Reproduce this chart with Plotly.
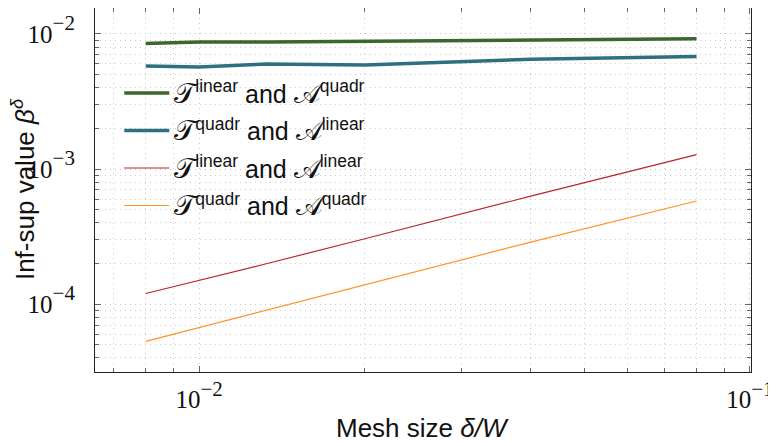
import plotly.graph_objects as go

mesh = [0.008, 0.01, 0.0133, 0.02, 0.04, 0.08]
lin_quadr = [0.0085, 0.0087, 0.0087, 0.0088, 0.0090, 0.0092]
quadr_lin = [0.0058, 0.0057, 0.0060, 0.0059, 0.0065, 0.0068]
lin_lin = [1.2e-4, 1.5e-4, 2.0e-4, 3.05e-4, 6.3e-4, 1.28e-3]
quadr_quadr = [5.3e-5, 6.7e-5, 9.1e-5, 1.38e-4, 2.88e-4, 5.8e-4]

T = "<span style='font-size:28px'>𝒯</span>"
A = "<span style='font-size:28px'>𝒜</span>"
names = [
    f"{T}<sup>linear</sup> and {A}<sup>quadr</sup>",
    f"{T}<sup>quadr</sup> and {A}<sup>linear</sup>",
    f"{T}<sup>linear</sup> and {A}<sup>linear</sup>",
    f"{T}<sup>quadr</sup> and {A}<sup>quadr</sup>",
]
series = [lin_quadr, quadr_lin, lin_lin, quadr_quadr]
colors = ["#3b662c", "#2e7080", "#b8262b", "#ff9426"]
widths = [3.5, 3.5, 1.2, 1.2]

SUP = "<span style='font-size:30px'><sup>{}</sup></span>"
x_tickvals = [0.01, 0.1]
x_ticktext = ["10" + SUP.format("−2"), "10" + SUP.format("−1")]
y_tickvals = [1e-4, 1e-3, 1e-2]
y_ticktext = ["10" + SUP.format("−4"), "10" + SUP.format("−3"), "10" + SUP.format("−2")]

fig = go.Figure()
for i, (n, s, c, w) in enumerate(zip(names, series, colors, widths)):
    fig.add_trace(go.Scatter(x=mesh, y=s, mode="lines", name=n, legendgroup=f"g{i}",
                             line=dict(color=c, width=w)))

axis_common = dict(
    type="log", showline=True, linecolor="#222", linewidth=1.2, mirror="allticks",
    ticks="inside", ticklen=6, tickcolor="#666", tickwidth=1,
    showgrid=True, gridcolor="#c4c4c4", griddash="1px,4px", gridwidth=1,
    zeroline=False,
    tickfont=dict(family="Liberation Serif", size=25, color="#111"),
    minor=dict(dtick="D1", ticks="inside", ticklen=4, tickcolor="#666",
               showgrid=True, gridcolor="#cccccc", griddash="1px,4px", gridwidth=1),
)

fig.update_xaxes(**axis_common, range=[-2.189, -0.998], tickvals=x_tickvals,
                 ticktext=x_ticktext, ticklabelstandoff=5)
fig.update_yaxes(**axis_common, range=[-4.502, -1.808], tickvals=y_tickvals,
                 ticktext=y_ticktext, ticklabelstandoff=14)

title_font = dict(family="Liberation Sans", size=26, color="#111")
fig.add_annotation(text="Mesh size <i>δ/W</i>", xref="paper", yref="paper",
                   x=0.499, y=-0.155, xanchor="center", yanchor="middle",
                   showarrow=False, font=title_font)
fig.add_annotation(text="Inf-sup value <i>β<sup>δ</sup></i>", xref="paper", yref="paper",
                   x=-0.108, y=0.503, xanchor="center", yanchor="middle",
                   textangle=-90, showarrow=False, font=title_font)

fig.update_layout(
    width=768, height=438,
    margin=dict(l=87, r=25, t=0, b=74),
    plot_bgcolor="white", paper_bgcolor="white",
    legend=dict(x=0.037, y=0.829, xanchor="left", yanchor="top",
                bgcolor="rgba(255,255,255,0)", borderwidth=0,
                font=dict(family="Liberation Sans", size=25, color="#111"),
                tracegroupgap=2, itemwidth=45),
)

fig.write_html("out.html")
